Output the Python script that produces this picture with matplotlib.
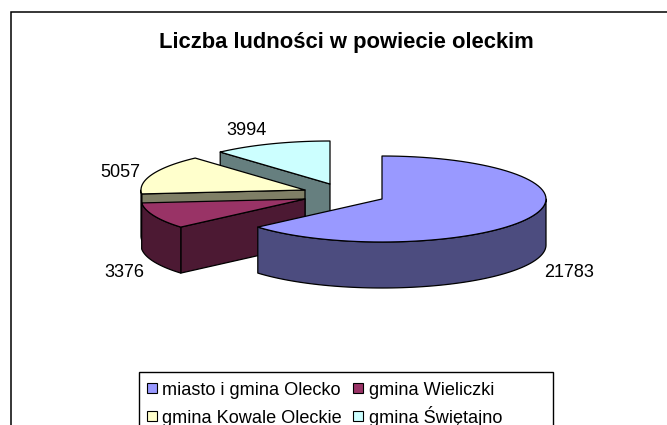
import numpy as np
import matplotlib
matplotlib.use("Agg")
import matplotlib.pyplot as plt
from matplotlib.patches import Polygon, Rectangle

plt.rcParams['font.family'] = ['Liberation Sans', 'DejaVu Sans']

title = "Liczba ludności w powiecie oleckim"
categories = ["miasto i gmina Olecko", "gmina Wieliczki", "gmina Kowale Oleckie", "gmina Świętajno"]
values = [21783, 3376, 5057, 3994]
top_colors = ["#9999ff", "#993366", "#ffffcc", "#ccffff"]
side_colors = ["#4c4c7f", "#4c1933", "#7f7f66", "#667f7f"]
centers = [(382, 199), (305, 199), (305, 190), (330, 184)]
label_pos = [(569, 277), (124, 277), (120, 177), (246, 135)]
legend_pos = [(146, 395), (352, 395), (146, 423), (352, 423)]
legend_text_x = [162, 369, 162, 369]

W, H = 667, 425
RX, RY, DEPTH = 164, 43, 46
EDGE = "#000000"
LW = 0.9

fig = plt.figure(figsize=(W / 100, H / 100), dpi=100)
ax = fig.add_axes([0, 0, 1, 1])
ax.set_xlim(0, W)
ax.set_ylim(H, 0)
ax.axis("off")

ax.add_patch(Rectangle((10.5, 11.5), 800, 500, fc="white", ec="black", lw=1.1, zorder=0))
ax.text(346, 48, title, ha="center", va="baseline", fontsize=15.8, fontweight="bold", zorder=20)

fracs = np.array(values, dtype=float) / sum(values)
ends = np.cumsum(fracs) * 2 * np.pi
starts = ends - fracs * 2 * np.pi


def rim(c, a0, a1, n=80):
    t = np.linspace(a0, a1, n)
    return np.column_stack([c[0] + RX * np.sin(t), c[1] - RY * np.cos(t)])


def face(points, color, z):
    ax.add_patch(Polygon(points, closed=True, fc=color, ec=EDGE, lw=LW, joinstyle="round", zorder=z))


def down(p):
    return np.asarray(p) + [0, DEPTH]


# painter's order: back slices first
for i, z in zip([3, 2, 1, 0], [2, 4, 6, 8]):
    c = np.array(centers[i], dtype=float)
    a0, a1 = starts[i], ends[i]
    arc = rim(c, a0, a1)
    # radial wall seen from the front
    if i != 0:
        edge = np.array([arc[0], c])
        face(np.vstack([edge, down(edge)[::-1]]), side_colors[i], z)
    # outer rim, only the part facing the viewer
    lo, hi = max(a0, np.pi / 2), min(a1, 3 * np.pi / 2)
    if hi > lo:
        r = rim(c, lo, hi)
        face(np.vstack([r, down(r)[::-1]]), side_colors[i], z)
    # top face
    face(np.vstack([c, arc]), top_colors[i], z + 1)

for v, (x, y) in zip(values, label_pos):
    ax.text(x, y, str(v), ha="center", va="baseline", fontsize=13, zorder=20)

# legend box runs past the lower edge of the picture, as in the reference
ax.add_patch(Rectangle((138.5, 371.5), 414, 100, fc="white", ec="black", lw=1.0, zorder=24))
for name, col, (hx, by), tx in zip(categories, top_colors, legend_pos, legend_text_x):
    ax.add_patch(Rectangle((hx + 0.5, by - 12.5), 10.5, 10.5, fc=col, ec="black", lw=0.8, zorder=25))
    ax.text(tx, by, name, ha="left", va="baseline", fontsize=13.1, zorder=25)

fig.savefig("out.png", dpi=100)
